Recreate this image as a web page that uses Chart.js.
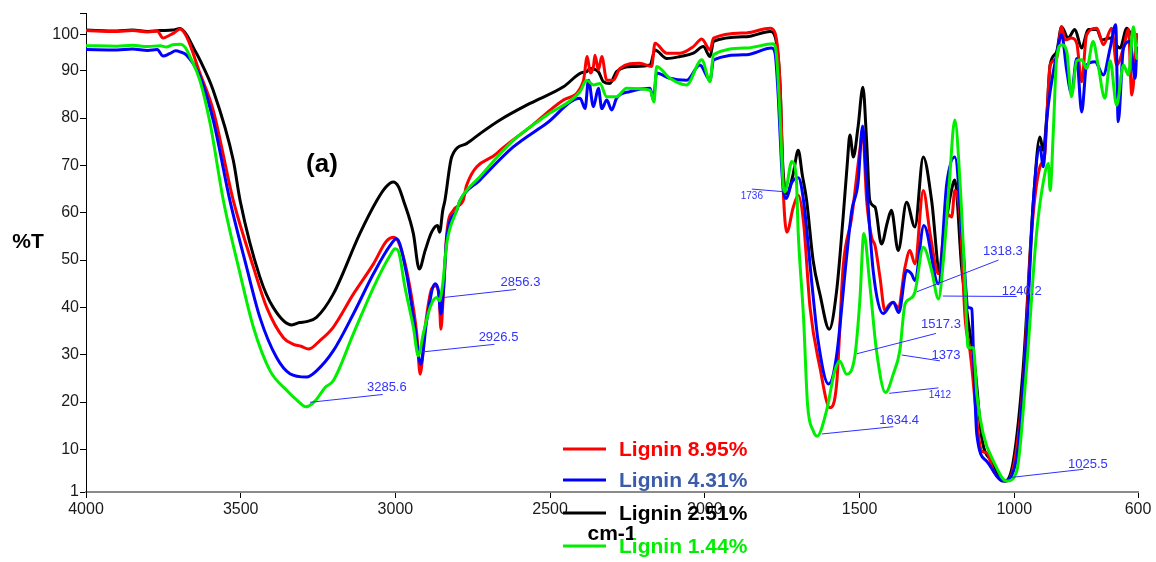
<!DOCTYPE html>
<html>
<head>
<meta charset="utf-8">
<script src="https://cdn.jsdelivr.net/npm/chart.js@4.4.1/dist/chart.umd.min.js"></script>
<style>
    html, body { margin: 0; padding: 0; background: #fff; }
    #wrap { width: 1156px; height: 562px; }
</style>
</head>
<body>
<div id="wrap"><canvas id="ftirChart" width="1156" height="562"></canvas></div>
<script>
// Spectra: [wavenumber (cm-1), %T]
const seriesNames = ['Lignin 8.95%', 'Lignin 4.31%', 'Lignin 2.51%', 'Lignin 1.44%'];

const redSpectrum = [
    [4000, 98.5], [3900, 98.3], [3850, 98.5], [3800, 98.2], [3770, 98.4], [3751, 96.9], [3730, 97.5],
    [3715, 98.0], [3696, 98.8], [3675, 97.2], [3632, 89.5], [3589, 81.7], [3524, 62.6], [3459, 48.5],
    [3416, 40.0], [3362, 33.6], [3330, 32.2], [3305, 31.8], [3281, 31.2], [3244, 33.0], [3201, 35.8],
    [3136, 42.8], [3071, 49.2], [3028, 54.1], [3004, 54.8], [2980, 52.0], [2953, 44.2], [2931, 34.4],
    [2920, 25.9], [2904, 35.8], [2883, 43.9], [2867, 44.6], [2858, 41.4], [2853, 35.4], [2845, 42.8],
    [2834, 55.6], [2813, 60.5], [2781, 62.6], [2770, 65.8], [2673, 72.5], [2565, 78.1], [2457, 83.8],
    [2393, 87.7], [2380, 93.0], [2370, 89.5], [2360, 90.9], [2355, 93.3], [2344, 90.2], [2333, 93.0],
    [2317, 88.0], [2296, 88.0], [2274, 90.5], [2210, 91.6], [2172, 90.9], [2161, 95.8], [2123, 93.7],
    [2080, 93.7], [2037, 95.1], [2010, 96.7], [1983, 94.4], [1972, 96.9], [1865, 98.0], [1789, 99.0],
    [1773, 98.0], [1757, 87.3], [1746, 64.0], [1735, 55.9], [1714, 61.2], [1698, 63.7], [1681, 58.0],
    [1660, 40.0], [1628, 27.3], [1596, 18.8], [1574, 23.8], [1553, 48.5], [1525, 59.1], [1499, 73.2],
    [1490, 77.1], [1477, 62.6], [1461, 54.8], [1450, 53.1], [1434, 46.4], [1418, 39.3], [1405, 40.5],
    [1391, 41.1], [1375, 40.0], [1353, 48.5], [1337, 52.0], [1321, 49.2], [1294, 64.7], [1272, 55.6],
    [1245, 47.1], [1218, 59.8], [1202, 59.1], [1192, 64.7], [1175, 59.1], [1159, 37.9], [1143, 30.8],
    [1137, 27.3], [1116, 13.2], [1105, 9.6], [1089, 9.3], [1067, 5.4], [1030, 3.3], [1003, 6.1],
    [971, 23.8], [944, 55.6], [917, 69.7], [901, 72.5], [895, 79.6], [884, 91.2], [863, 92.6],
    [847, 99.3], [836, 96.5], [815, 96.9], [798, 95.8], [782, 87.7], [766, 97.6], [733, 99.0],
    [712, 95.5], [685, 99.0], [669, 91.2], [647, 94.8], [631, 98.7], [620, 84.9], [604, 97.6]
];

const blueSpectrum = [
    [4000, 94.5], [3900, 94.4], [3850, 94.6], [3800, 94.3], [3770, 94.5], [3751, 93.1], [3730, 93.6],
    [3710, 94.2], [3696, 94.0], [3675, 93.3], [3632, 88.8], [3589, 79.6], [3535, 62.6], [3481, 48.5],
    [3438, 37.9], [3384, 29.4], [3341, 26.0], [3287, 25.3], [3255, 26.6], [3201, 30.8], [3136, 38.6],
    [3071, 47.1], [3017, 53.1], [2996, 54.5], [2964, 47.1], [2937, 35.8], [2918, 28.0], [2899, 37.2],
    [2872, 45.0], [2861, 43.5], [2853, 38.6], [2845, 43.5], [2834, 54.8], [2802, 60.5], [2791, 62.6],
    [2727, 66.9], [2619, 73.9], [2511, 78.9], [2403, 84.2], [2387, 82.0], [2376, 88.0], [2360, 82.4],
    [2344, 86.3], [2333, 82.0], [2317, 83.8], [2301, 81.7], [2285, 84.2], [2242, 85.6], [2177, 86.3],
    [2166, 83.8], [2156, 89.5], [2113, 88.4], [2059, 88.0], [2016, 91.2], [1983, 88.0], [1972, 92.3],
    [1865, 93.4], [1784, 94.8], [1773, 93.7], [1762, 83.8], [1752, 70.0], [1746, 64.7], [1737, 63.0],
    [1719, 66.4], [1698, 67.4], [1681, 62.6], [1654, 45.0], [1634, 33.0], [1600, 23.8], [1575, 29.4],
    [1543, 49.9], [1525, 60.5], [1505, 66.2], [1490, 78.3], [1477, 66.2], [1456, 47.8], [1424, 38.7],
    [1391, 41.1], [1373, 38.9], [1348, 47.8], [1332, 47.1], [1321, 45.7], [1292, 57.3], [1245, 45.0],
    [1218, 66.2], [1192, 71.8], [1165, 52.0], [1149, 40.0], [1137, 39.7], [1132, 30.8], [1121, 13.2],
    [1089, 7.5], [1035, 3.3], [992, 8.2], [960, 34.4], [938, 62.6], [917, 73.9], [906, 69.7],
    [895, 79.6], [884, 85.6], [863, 93.4], [847, 97.6], [830, 89.9], [815, 85.2], [798, 92.6],
    [782, 81.3], [766, 91.2], [739, 91.9], [712, 89.1], [690, 94.8], [672, 99.7], [664, 79.2],
    [647, 94.8], [626, 96.2], [609, 88.4], [604, 94.8]
];

const blackSpectrum = [
    [4000, 98.6], [3900, 98.4], [3850, 98.6], [3800, 98.3], [3761, 98.5], [3720, 98.6], [3696, 98.9],
    [3675, 97.6], [3650, 94.5], [3632, 92.3], [3589, 85.9], [3524, 71.1], [3502, 62.6], [3438, 46.4],
    [3395, 40.0], [3335, 36.3], [3310, 36.8], [3287, 37.0], [3255, 37.9], [3201, 42.8], [3115, 55.6],
    [3060, 62.6], [3030, 65.5], [3007, 66.5], [2990, 65.5], [2974, 62.6], [2942, 55.6], [2923, 48.1],
    [2904, 52.0], [2883, 55.9], [2864, 57.3], [2857, 55.9], [2847, 60.5], [2840, 62.6], [2818, 71.8],
    [2770, 74.6], [2727, 76.7], [2662, 79.6], [2565, 83.1], [2457, 86.6], [2398, 89.6], [2382, 89.8],
    [2371, 90.5], [2344, 89.8], [2328, 87.7], [2307, 87.3], [2285, 89.8], [2231, 90.9], [2177, 91.2],
    [2161, 94.4], [2123, 92.6], [2080, 93.0], [2037, 93.7], [2005, 95.1], [1983, 93.0], [1972, 96.2],
    [1865, 97.2], [1789, 98.3], [1773, 97.2], [1757, 87.3], [1748, 70.0], [1735, 64.0], [1715, 68.0],
    [1698, 73.2], [1685, 68.0], [1671, 62.6], [1650, 49.9], [1628, 42.8], [1598, 35.4], [1574, 43.5],
    [1553, 59.1], [1540, 70.0], [1531, 76.4], [1520, 71.8], [1505, 78.0], [1489, 86.5], [1477, 75.0],
    [1467, 62.6], [1450, 61.2], [1429, 53.4], [1410, 58.0], [1397, 60.5], [1375, 52.0], [1348, 62.2],
    [1321, 57.0], [1294, 71.8], [1267, 62.6], [1240, 47.1], [1220, 58.0], [1203, 64.7], [1192, 66.9],
    [1170, 48.5], [1149, 37.2], [1127, 27.3], [1105, 12.5], [1073, 7.5], [1030, 3.3], [1003, 7.5],
    [971, 27.3], [938, 62.6], [917, 76.0], [906, 73.2], [895, 80.3], [884, 91.2], [863, 94.0],
    [847, 99.3], [826, 96.9], [804, 98.7], [782, 94.8], [761, 98.7], [733, 98.7], [717, 96.5],
    [690, 96.9], [658, 94.8], [636, 99.0], [620, 97.6], [604, 97.6]
];

const greenSpectrum = [
    [4000, 95.3], [3900, 95.2], [3850, 95.4], [3800, 95.1], [3760, 95.3], [3740, 95.0], [3720, 95.5],
    [3696, 95.6], [3680, 95.0], [3664, 93.0], [3632, 88.0], [3599, 78.9], [3556, 62.6], [3502, 47.1],
    [3459, 35.8], [3405, 26.6], [3350, 22.4], [3320, 20.5], [3289, 19.0], [3260, 20.2], [3227, 23.1],
    [3201, 24.5], [3136, 34.4], [3071, 44.2], [3017, 51.0], [3001, 52.4], [2991, 52.0], [2969, 44.2],
    [2942, 35.8], [2926, 29.8], [2910, 34.4], [2888, 40.0], [2867, 42.1], [2858, 41.4], [2847, 45.0],
    [2834, 53.5], [2802, 60.5], [2791, 62.6], [2727, 67.6], [2619, 75.3], [2511, 80.6], [2403, 85.6],
    [2382, 88.0], [2360, 87.0], [2339, 87.3], [2317, 84.5], [2285, 84.5], [2253, 86.3], [2177, 85.9],
    [2164, 83.4], [2156, 90.9], [2113, 88.4], [2059, 87.0], [2010, 92.3], [1983, 87.7], [1972, 93.4],
    [1865, 94.8], [1779, 95.7], [1768, 93.0], [1757, 80.3], [1746, 65.4], [1741, 64.4], [1719, 70.8],
    [1705, 68.0], [1698, 55.6], [1681, 37.9], [1668, 19.5], [1650, 14.0], [1637, 12.8], [1607, 18.1],
    [1580, 26.6], [1564, 28.7], [1542, 25.9], [1515, 29.8], [1499, 41.4], [1486, 55.6], [1467, 45.0],
    [1445, 30.8], [1416, 22.0], [1391, 25.9], [1370, 30.8], [1353, 40.7], [1337, 41.8], [1321, 43.2],
    [1294, 52.7], [1267, 47.8], [1245, 41.8], [1229, 49.9], [1210, 66.2], [1192, 79.6], [1175, 66.2],
    [1159, 45.0], [1149, 31.5], [1132, 31.5], [1121, 21.7], [1100, 13.2], [1067, 7.5], [1025, 3.3],
    [992, 5.4], [960, 27.3], [928, 55.6], [901, 68.3], [890, 70.4], [884, 64.7], [874, 76.7],
    [863, 92.6], [847, 95.5], [830, 94.0], [815, 84.5], [798, 92.1], [782, 92.3], [766, 90.5],
    [745, 96.2], [729, 91.2], [707, 84.2], [690, 92.1], [669, 82.7], [647, 91.2], [631, 89.1],
    [615, 99.3], [604, 92.6]
];

const seriesColors = ['#ff0000', '#0000ff', '#000000', '#00ee00'];
const legendTextColors = ['#ff0000', '#3b5ca8', '#000000', '#00ee00'];

// Axis ticks
const xTickValues = [4000, 3500, 3000, 2500, 2000, 1500, 1000, 600];
const yTickValues = [1, 10, 20, 30, 40, 50, 60, 70, 80, 90, 97.7, 102.2];
const yTickLabels = ['1', '10', '20', '30', '40', '50', '60', '70', '80', '90', '100', ''];

// Peak labels: text, [wavenumber, %T] of the marked point
const peakLabels = ['3285.6', '2926.5', '2856.3', '1736', '1318.3', '1240.2', '1517.3', '1373', '1412', '1634.4', '1025.5'];
const peakPoints = [
    [3276, 19.95], [2912, 30.6], [2843, 42.1], [1746, 64.45], [1315, 43.3], [1231, 42.4],
    [1509, 30.2], [1364, 29.95], [1404, 21.85], [1622, 13.26], [1007, 4.1]
];

// where each leader line ends and where its text sits (axis units), plus font size
const peakLabelLayout = [
    { end: [3041, 21.6], text: [3092, 23.0], size: 13 },
    { end: [2680, 32.2], text: [2731, 33.7], size: 13 },
    { end: [2610, 43.8], text: [2660, 45.3], size: 13 },
    { end: [1848, 65.0], text: [1884, 63.5], size: 10 },
    { end: [1051, 50.0], text: [1101, 51.8], size: 13 },
    { end: [992, 42.3], text: [1040, 43.3], size: 13 },
    { end: [1253, 34.5], text: [1301, 36.3], size: 13 },
    { end: [1240, 28.7], text: [1267, 29.8], size: 13 },
    { end: [1245, 23.0], text: [1276, 21.35], size: 10 },
    { end: [1391, 14.8], text: [1436, 16.2], size: 13 },
    { end: [776, 5.8], text: [826, 6.9], size: 13 }
];

const FONT = "'Liberation Sans', Arial, sans-serif";

function toPoints(spectrum) {
    return spectrum.map(p => ({ x: p[0], y: p[1] }));
}

const spectra = [redSpectrum, blueSpectrum, blackSpectrum, greenSpectrum];
// green on top, black at the bottom
const drawOrder = [2, 1, 3, 0];

const datasets = spectra.map((s, i) => ({
    label: seriesNames[i],
    data: toPoints(s),
    borderColor: seriesColors[i],
    backgroundColor: seriesColors[i],
    showLine: true,
    order: drawOrder[i]
}));

// Text, legend and peak labels drawn on top of the chart
const overlayPlugin = {
    id: 'overlay',
    afterDatasetsDraw(chart) {
        const ctx = chart.ctx;
        const xs = chart.scales.x;
        const ys = chart.scales.y;
        ctx.save();
        ctx.strokeStyle = '#2f2fff';
        ctx.fillStyle = '#3333ff';
        ctx.lineWidth = 1;
        ctx.textAlign = 'left';
        ctx.textBaseline = 'middle';
        peakLabels.forEach((label, i) => {
            const p = peakPoints[i];
            const lay = peakLabelLayout[i];
            ctx.beginPath();
            ctx.moveTo(xs.getPixelForValue(p[0]), ys.getPixelForValue(p[1]));
            ctx.lineTo(xs.getPixelForValue(lay.end[0]), ys.getPixelForValue(lay.end[1]));
            ctx.stroke();
            ctx.font = lay.size + 'px ' + FONT;
            ctx.fillText(label, xs.getPixelForValue(lay.text[0]), ys.getPixelForValue(lay.text[1]));
        });
        ctx.restore();
    },
    afterDraw(chart) {
        const ctx = chart.ctx;
        ctx.save();
        ctx.textBaseline = 'middle';

        // axis titles and panel tag
        ctx.fillStyle = '#000';
        ctx.textAlign = 'center';
        ctx.font = 'bold 21px ' + FONT;
        ctx.fillText('%T', 28, 242);
        ctx.fillText('cm-1', 612, 534);
        ctx.font = 'bold 26px ' + FONT;
        ctx.fillText('(a)', 322, 165);

        // legend
        ctx.textAlign = 'left';
        ctx.font = 'bold 21px ' + FONT;
        const rowY = [449, 480, 513, 546];
        seriesNames.forEach((name, i) => {
            ctx.strokeStyle = seriesColors[i];
            ctx.lineWidth = 3;
            ctx.beginPath();
            ctx.moveTo(563, rowY[i]);
            ctx.lineTo(606, rowY[i]);
            ctx.stroke();
            ctx.fillStyle = legendTextColors[i];
            ctx.fillText(name, 619, rowY[i] + 1);
        });
        ctx.restore();
    }
};

new Chart(document.getElementById('ftirChart').getContext('2d'), {
    type: 'scatter',
    data: { datasets: datasets },
    options: {
        responsive: false,
        animation: false,
        events: [],
        layout: { padding: { top: 13, right: 18, bottom: 0, left: 0 } },
        elements: {
            point: { radius: 0 },
            line: { borderWidth: 3, cubicInterpolationMode: 'monotone', borderJoinStyle: 'round', borderCapStyle: 'round' }
        },
        plugins: {
            legend: { display: false },
            tooltip: { enabled: false }
        },
        scales: {
            x: {
                type: 'linear',
                reverse: true,
                min: 600,
                max: 4000,
                afterBuildTicks: s => { s.ticks = xTickValues.map(v => ({ value: v })); },
                afterFit: s => { s.height = 70; },
                ticks: {
                    autoSkip: false,
                    maxRotation: 0,
                    padding: 2,
                    color: '#1a1a1a',
                    font: { family: FONT, size: 16 },
                    callback: v => String(v)
                },
                grid: { drawOnChartArea: false, drawTicks: true, tickLength: 6, color: '#000' },
                border: { color: '#8a8a8a', width: 2 }
            },
            y: {
                type: 'linear',
                min: 1,
                max: 102.2,
                afterBuildTicks: s => { s.ticks = yTickValues.map(v => ({ value: v })); },
                afterFit: s => { s.width = 86; },
                ticks: {
                    autoSkip: false,
                    padding: 1,
                    color: '#1a1a1a',
                    font: { family: FONT, size: 16 },
                    callback: (v, i) => yTickLabels[i]
                },
                grid: { drawOnChartArea: false, drawTicks: true, tickLength: 6, color: '#000' },
                border: { color: '#000', width: 1 }
            }
        }
    },
    plugins: [overlayPlugin]
});
</script>
</body>
</html>
